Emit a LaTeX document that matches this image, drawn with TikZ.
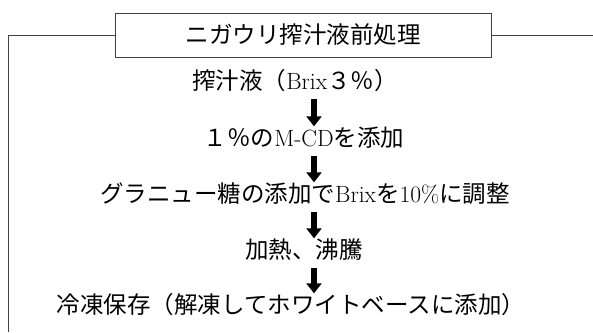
\documentclass[tikz,border=0pt]{standalone}
\usepackage{fontspec}
\newfontfamily\jpfont{Noto Sans CJK JP}
\usetikzlibrary{arrows.meta}
\tikzset{stage/.style = {inner sep=0pt, text height=20pt, text depth=3pt,
  font=\jpfont\fontsize{23.5}{28}\selectfont},
  flowarrow/.style = {line width=6pt, -{Triangle[width=15pt,length=10pt]},
  shorten <=6pt},
  frame/.style = {draw=black!75, line width=0.9pt}
  }

\begin{document}
\begin{tikzpicture}[x=1pt,y=-1pt]
        \useasboundingbox (0,0) rectangle (593,332);
        \path (303,35) node[stage,frame,minimum width=376pt,minimum height=44pt] (title) {ニガウリ搾汁液前処理}
        (295,81) node[stage] (t1) {搾汁液（{\rmfamily Brix}３％）}
        (304,138) node[stage] (t2) {１％の{\rmfamily M-CD}を添加}
        (305,194) node[stage] (t3) {グラニュー糖の添加で{\rmfamily Brix}を{\rmfamily 10\%}に調整}
        (304,250) node[stage] (t4) {加熱、沸騰}
        (291,305) node[stage] (t5) {冷凍保存（解凍してホワイトベースに添加）};
        \coordinate (ax) at (314,0);
        \coordinate (lt) at (8,35);
        \coordinate (lb) at (8,332);
        \coordinate (rt) at (593,35);
        \draw[frame] (lb) -- (lt) -- (title.west);
        \draw[frame] (title.east) -- (rt);
        \path
            (t1.south -| ax) edge[flowarrow] (t2.north -| ax)
            (t2.south -| ax) edge[flowarrow] (t3.north -| ax)
            (t3.south -| ax) edge[flowarrow] (t4.north -| ax)
            (t4.south -| ax) edge[flowarrow] (t5.north -| ax);
        \end{tikzpicture}
\end{document}
